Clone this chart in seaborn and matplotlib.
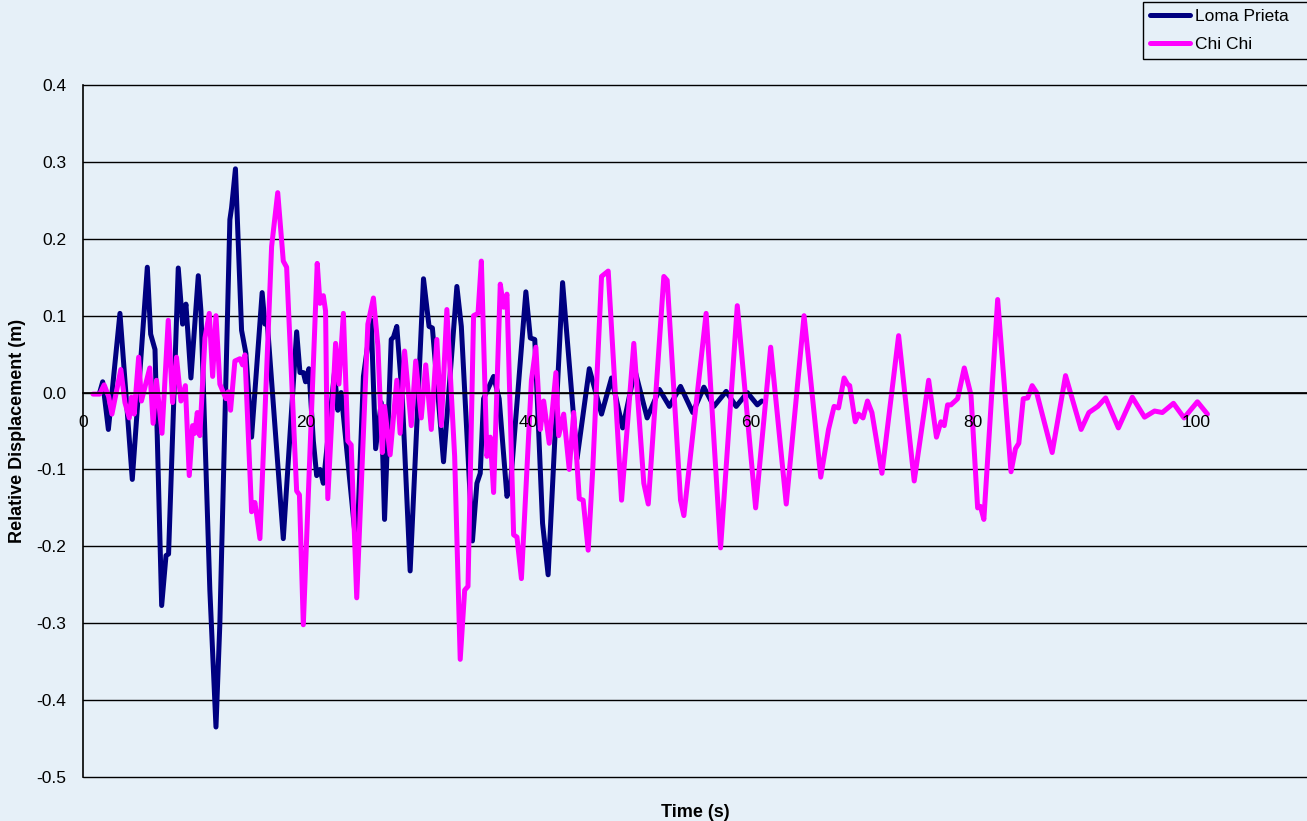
import numpy as np
import pandas as pd
import matplotlib
matplotlib.use("Agg")
import matplotlib.pyplot as plt
import seaborn as sns

# Loma Prieta record (time s, relative displacement m)
lp_time = [1.5, 1.77, 2.28, 3.32, 4.43, 5.78, 6.08, 6.47, 7.07, 7.46, 7.69, 8.56,
           8.95, 9.25, 9.7, 10.36, 10.6, 11.4, 11.95, 12.3, 13.2, 13.35, 13.7,
           14.25, 14.64, 15.15, 16.1, 16.35, 16.56, 18.0, 19.2, 19.5, 19.8, 20.0,
           20.3, 20.7, 21.0, 21.3, 21.6, 22.6, 22.9, 23.2, 24.6, 25.2, 25.9, 26.3,
           26.8, 27.1, 27.7, 27.9, 28.2, 28.7, 29.4, 30.6, 31.1, 31.4, 32.4, 33.6,
           34.0, 35.0, 35.4, 35.7, 36.0, 36.9, 37.4, 38.1, 38.4, 39.8, 40.2, 40.6,
           41.3, 41.8, 43.1, 44.4, 45.5, 46.6, 47.5, 48.5, 49.6, 50.7, 51.8, 52.7,
           53.7, 54.8, 55.8, 56.7, 57.8, 58.7, 59.7, 60.6, 61.0]
lp_disp = [0.0, 0.014, -0.048, 0.103, -0.113, 0.163, 0.076, 0.056, -0.277, -0.212,
           -0.21, 0.162, 0.089, 0.115, 0.019, 0.152, 0.106, -0.257, -0.435, -0.30,
           0.225, 0.24, 0.291, 0.081, 0.051, -0.058, 0.13, 0.089, 0.091, -0.19,
           0.079, 0.026, 0.026, 0.014, 0.031, -0.063, -0.108, -0.1, -0.118, 0.026,
           -0.023, 0.0, -0.207, 0.021, 0.094, -0.073, -0.013, -0.165, 0.069, 0.072,
           0.086, -0.008, -0.232, 0.148, 0.086, 0.084, -0.09, 0.138, 0.086, -0.193,
           -0.118, -0.105, -0.008, 0.021, -0.008, -0.135, -0.123, 0.131, 0.071,
           0.069, -0.17, -0.237, 0.143, -0.086, 0.031, -0.028, 0.019, -0.046,
           0.029, -0.033, 0.004, -0.018, 0.008, -0.026, 0.007, -0.018, 0.0015,
           -0.018, 0.0, -0.016, -0.011]

# Chi Chi record
cc_time = [0.9, 1.5, 1.9, 2.3, 2.6, 3.4, 3.77, 4.16, 4.35, 4.6, 5.0, 5.25, 6.0, 6.3,
           6.6, 7.1, 7.66, 8.05, 8.4, 8.8, 9.2, 9.55, 9.85, 10.05, 10.27, 10.5,
           10.96, 11.35, 11.65, 11.95, 12.3, 12.85, 13.05, 13.26, 13.65, 14.1,
           14.34, 14.55, 15.15, 15.45, 15.9, 16.95, 17.5, 18.0, 18.3, 19.2, 19.45,
           19.8, 21.05, 21.3, 21.6, 21.8, 22.0, 22.7, 23.0, 23.4, 23.8, 24.1, 24.6,
           25.6, 26.1, 26.5, 26.9, 27.1, 27.6, 28.2, 28.5, 28.9, 29.5, 29.9, 30.4,
           30.8, 31.3, 31.8, 32.2, 32.7, 33.4, 33.9, 34.3, 34.6, 35.1, 35.5, 35.8,
           36.3, 36.6, 36.9, 37.5, 37.8, 38.1, 38.7, 39.0, 39.4, 40.3, 40.7, 41.1,
           41.4, 41.9, 42.5, 42.75, 43.2, 43.7, 44.1, 44.6, 44.95, 45.4, 45.8, 46.6,
           47.2, 48.4, 49.5, 50.4, 50.8, 52.2, 52.5, 53.7, 54.0, 56.0, 57.3, 58.8,
           60.45, 61.8, 63.2, 64.8, 66.3, 67.0, 67.5, 67.9, 68.4, 68.7, 68.9, 69.4,
           69.7, 70.1, 70.5, 70.9, 71.8, 73.3, 74.7, 76.0, 76.7, 77.1, 77.4, 77.7,
           78.0, 78.6, 79.2, 79.8, 80.4, 80.65, 80.96, 82.2, 83.4, 83.8, 84.1, 84.5,
           84.9, 85.3, 85.7, 87.1, 88.3, 89.7, 90.4, 91.2, 91.9, 93.05, 94.3, 95.4,
           96.3, 97.0, 98.0, 98.95, 100.15, 101.05]
cc_disp = [-0.002, -0.002, 0.01, -0.005, -0.028, 0.03, -0.013, -0.033, -0.006,
           -0.028, 0.046, -0.011, 0.032, -0.04, 0.016, -0.053, 0.094, -0.013, 0.046,
           -0.011, 0.009, -0.108, -0.043, -0.053, -0.026, -0.056, 0.071, 0.103,
           0.021, 0.1, 0.011, -0.008, 0.001, -0.023, 0.041, 0.044, 0.036, 0.049,
           -0.155, -0.143, -0.19, 0.19, 0.26, 0.171, 0.163, -0.128, -0.133, -0.302,
           0.168, 0.116, 0.126, 0.106, -0.138, 0.064, 0.011, 0.103, -0.063, -0.068,
           -0.267, 0.089, 0.123, 0.061, -0.078, -0.018, -0.081, 0.016, -0.053,
           0.054, -0.043, 0.041, -0.033, 0.036, -0.048, 0.069, -0.043, 0.108,
           -0.083, -0.347, -0.257, -0.252, 0.1, 0.103, 0.171, -0.083, -0.058, -0.13,
           0.141, 0.111, 0.128, -0.185, -0.188, -0.242, 0.016, 0.059, -0.048,
           -0.011, -0.066, 0.026, -0.056, -0.028, -0.1, -0.026, -0.138, -0.14,
           -0.205, -0.103, 0.151, 0.158, -0.14, 0.064, -0.118, -0.145, 0.151, 0.146,
           -0.14, -0.16, 0.103, -0.202, 0.113, -0.15, 0.059, -0.145, 0.1, -0.11,
           -0.048, -0.018, -0.02, 0.019, 0.011, 0.009, -0.038, -0.028, -0.033,
           -0.011, -0.026, -0.105, 0.074, -0.115, 0.016, -0.058, -0.038, -0.043,
           -0.016, -0.016, -0.008, 0.032, -0.003, -0.15, -0.148, -0.165, 0.121,
           -0.103, -0.073, -0.066, -0.008, -0.007, 0.009, 0.0, -0.078, 0.022,
           -0.048, -0.026, -0.018, -0.007, -0.046, -0.006, -0.032, -0.024, -0.026,
           -0.014, -0.033, -0.012, -0.028]

x_ticks = [0, 20, 40, 60, 80, 100]
y_ticks = [0.4, 0.3, 0.2, 0.1, 0.0, -0.1, -0.2, -0.3, -0.4, -0.5]

bg = '#E6F0F8'
sns.set_theme(style='white', rc={'figure.facecolor': bg, 'axes.facecolor': bg,
                                 'text.color': 'black'})
plt.rcParams['font.family'] = ['Liberation Sans', 'DejaVu Sans']

fig = plt.figure(figsize=(13.07, 8.21), dpi=100)
ax = fig.add_axes([83 / 1307, 44 / 821, 1224 / 1307, 692 / 821])

sns.lineplot(x=lp_time, y=lp_disp, ax=ax, color='#000080', lw=3.6,
             label='Loma Prieta', sort=False, estimator=None)
sns.lineplot(x=cc_time, y=cc_disp, ax=ax, color='#FF00FF', lw=3.6,
             label='Chi Chi', sort=False, estimator=None)
for line in ax.lines:
    line.set_solid_joinstyle('round')
    line.set_solid_capstyle('round')

ax.set_xlim(0, 110)
ax.set_ylim(-0.5, 0.4)
ax.set_xticks(x_ticks)
ax.set_xticklabels([str(v) for v in x_ticks])
ax.set_yticks(y_ticks)
ax.set_yticklabels([f'{v:.1f}' for v in y_ticks])
for yv in y_ticks:
    ax.axhline(yv, color='black', lw=1, zorder=0.5, clip_on=False)
# axis (tick labels) drawn over the data lines, as in the original
ax.set_axisbelow(False)
ax.xaxis.set_zorder(3)
ax.yaxis.set_zorder(3)

ax.spines['top'].set_visible(False)
ax.spines['right'].set_visible(False)
ax.spines['bottom'].set_position(('data', 0))
ax.spines['bottom'].set_color('black')
ax.spines['left'].set_color('black')
ax.spines['left'].set_linewidth(1.2)
ax.tick_params(axis='x', direction='out', length=4, width=1, color='black',
               pad=12, labelsize=12.5, labelcolor='black')
ax.tick_params(axis='y', direction='out', length=6, width=1, color='black',
               pad=6, labelsize=12.5, labelcolor='black')

ax.set_xlabel('')
ax.set_ylabel('')
fig.text(695 / 1307, 1 - 812 / 821, 'Time (s)', ha='center', va='center',
         fontsize=13, fontweight='bold', color='black')
fig.text(18 / 1307, 1 - 431 / 821, 'Relative Displacement (m)', ha='center',
         va='center', rotation=90, fontsize=13, fontweight='bold', color='black')

ax.get_legend().remove()
handles, labels = ax.get_legend_handles_labels()
leg = fig.legend(handles, labels, loc='upper left', mode='expand',
                 bbox_to_anchor=(1143 / 1307, 1 - 2 / 821, 200 / 1307, 0),
                 fontsize=12.5, frameon=True, fancybox=False, framealpha=1,
                 edgecolor='black', handlelength=2.3, handletextpad=0.3,
                 labelspacing=0.75, borderpad=0.4, borderaxespad=0)
leg.get_frame().set_linewidth(1)
for txt in leg.get_texts():
    txt.set_color('black')

fig.savefig('out.png', dpi=100, facecolor=bg)
